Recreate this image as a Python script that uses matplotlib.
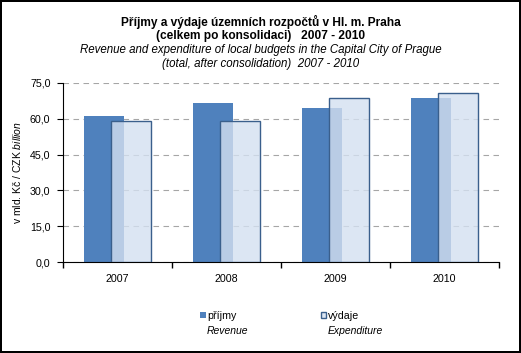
import matplotlib.pyplot as plt
import numpy as np
from matplotlib.ticker import FuncFormatter, MultipleLocator, FixedLocator

plt.rcParams['font.family'] = ['Liberation Sans', 'DejaVu Sans']
plt.rcParams['mathtext.fontset'] = 'custom'
plt.rcParams['mathtext.rm'] = 'Liberation Sans'
plt.rcParams['mathtext.it'] = 'Liberation Sans:italic'

years = ['2007', '2008', '2009', '2010']
prijmy = [61.2, 66.6, 64.5, 68.6]      # Revenue
vydaje = [58.9, 59.2, 68.6, 70.7]      # Expenditure

fig = plt.figure(figsize=(5.21, 3.53), dpi=100)
fig.patch.set_edgecolor('black')
fig.patch.set_linewidth(1.5)

W, H = 521, 353
ax = fig.add_axes([63 / W, (H - 262) / H, 436 / W, 179 / H])

x = np.arange(len(years))
bw = 0.367
off = 0.128
b1 = ax.bar(x - off, prijmy, bw, color='#4F81BD', zorder=2)
b2 = ax.bar(x + off, vydaje, bw, facecolor=(0.83, 0.88, 0.94, 0.8),
            edgecolor='#3A5F8C', linewidth=1.0, zorder=3)

ax.set_xlim(-0.5, len(years) - 0.5)
ax.set_ylim(0, 75)
ax.yaxis.set_major_locator(MultipleLocator(15))
ax.yaxis.set_major_formatter(FuncFormatter(lambda v, p: f'{v:.1f}'.replace('.', ',')))
ax.yaxis.grid(True, linestyle=(0, (5, 4)), color='#A6A6A6', linewidth=0.8, zorder=0)
ax.set_axisbelow(True)

ax.set_xticks(x)
ax.set_xticklabels(years)
ax.xaxis.set_minor_locator(FixedLocator(np.arange(-0.5, len(years), 1.0)))
ax.tick_params(axis='x', which='major', length=0, labelsize=7.7, pad=9)
ax.tick_params(axis='x', which='minor', length=4, direction='out', width=1)
ax.tick_params(axis='y', length=4, direction='out', labelsize=7.7, pad=5)

for s in ['top', 'right']:
    ax.spines[s].set_visible(False)
ax.spines['left'].set_color('black')
ax.spines['bottom'].set_color('black')

ax.set_ylabel(r'v mld. Kč / CZK $\mathit{billion}$', fontsize=7.5, labelpad=5)

fig.text(0.5, 1 - 22 / H, 'Příjmy a výdaje územních rozpočtů v Hl. m. Praha',
         ha='center', va='center', fontsize=8.6, fontweight='bold')
fig.text(0.5, 1 - 36 / H, '(celkem po konsolidaci)   2007 - 2010',
         ha='center', va='center', fontsize=8.6, fontweight='bold')
fig.text(0.5, 1 - 50 / H, 'Revenue and expenditure of local budgets in the Capital City of Prague',
         ha='center', va='center', fontsize=8.3, style='italic')
fig.text(0.5, 1 - 64 / H, '(total, after consolidation)  2007 - 2010',
         ha='center', va='center', fontsize=8.3, style='italic')

leg = fig.legend([b1, b2], ['příjmy', 'výdaje'], loc='center left',
                 bbox_to_anchor=(195 / W, 1 - 316 / H), ncol=2, frameon=False,
                 fontsize=7.7, handlelength=0.5, handleheight=0.5, handletextpad=0.15,
                 columnspacing=7.85, borderpad=0)
fig.text(207 / W, 1 - 331 / H, 'Revenue', fontsize=7.5, style='italic', va='center')
fig.text(328 / W, 1 - 331 / H, 'Expenditure', fontsize=7.5, style='italic', va='center')

fig.savefig('out.png', dpi=100)
